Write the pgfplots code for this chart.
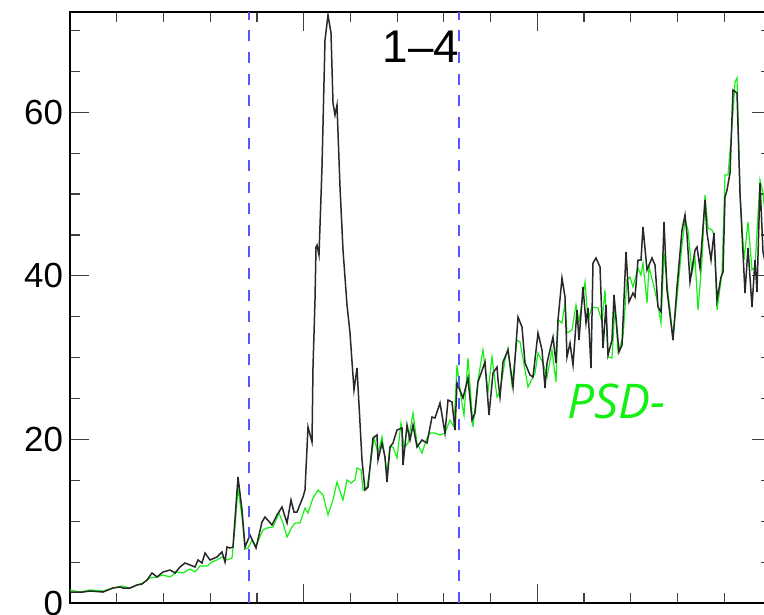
\documentclass[border=0pt]{standalone}
\usepackage{fontspec}
\usepackage{pgfplots}
\pgfplotsset{compat=1.18}
\setmainfont{Liberation Sans}
\newfontfamily\osans{Open Sans}
\definecolor{psdgreen}{RGB}{20,240,20}
\definecolor{obsblack}{RGB}{40,40,40}
\definecolor{bandblue}{RGB}{85,85,255}

\begin{document}
\begin{tikzpicture}
\begin{axis}[
    at={(0,0)}, anchor=south west,
    scale only axis,
    width=350.5bp, height=295.5bp,
    xmin=0, xmax=701,
    ymin=0, ymax=72.25,
    axis line style={line width=1bp, black},
    xtick={0,233.67,467.33,701},
    minor xtick={46.73,93.47,140.2,186.93,280.4,327.13,373.87,420.6,514.07,560.8,607.53,654.27},
    xticklabels={},
    ytick={0,20,40,60},
    minor ytick={5,10,15,25,30,35,45,50,55,65,70},
    major tick length=9.5bp,
    minor tick length=5bp,
    every tick/.style={line width=0.6bp, black!75},
    tick align=inside,
    /pgf/number format/assume math mode=true,
    yticklabel style={font=\fontsize{17.5}{20}\selectfont},
]

% PSD model
\addplot[color=psdgreen, line width=0.6bp] coordinates {
(0,1.59) (10,1.34) (20,1.59) (33,1.47) (43,1.83) (52,2.08) (60,1.83) (67,2.20)
(73,2.44) (80,3.06) (87,3.18) (93,3.42) (100,3.18) (107,3.79) (113,3.67) (120,4.16)
(125,3.79) (130,4.52) (137,4.52) (142,5.01) (147,5.26) (152,5.62) (157,5.26) (162,5.50)
(165,9.29) (168,14.06) (172,10.51) (175,6.60) (178,6.72) (182,7.70) (186,6.97) (193,8.92)
(197,9.17) (203,9.29) (209,11.00) (213,9.78) (217,8.07) (222,9.29) (225,9.78) (230,9.78)
(235,11.61) (238,11.00) (243,12.84) (248,13.81) (253,13.20) (258,10.76) (263,12.59) (267,14.79)
(273,12.59) (277,15.04) (281,14.67) (285,15.04) (287,16.50) (291,16.26) (293,13.81) (297,14.06)
(300,16.63) (304,20.17) (308,18.34) (312,20.29) (317,15.89) (320,19.07) (323,19.07) (327,17.73)
(331,22.00) (334,18.95) (338,19.56) (343,23.23) (347,19.56) (352,18.34) (357,20.17) (360,20.78)
(365,20.78) (370,20.54) (375,20.78) (380,22.37) (384,21.52) (387,29.10) (391,25.18) (394,22.98)
(398,29.95) (403,21.52) (408,27.26) (413,30.93) (418,25.79) (422,30.07) (427,25.18) (430,25.79)
(435,29.71) (438,31.17) (442,26.65) (447,32.15) (450,31.91) (455,28.48) (458,26.41) (465,28.12)
(468,30.56) (473,29.34) (477,27.63) (482,30.93) (486,27.02) (488,34.60) (492,34.23) (495,36.67)
(497,33.01) (502,33.37) (506,36.43) (509,34.35) (515,39.24) (518,34.60) (522,36.19) (528,36.06)
(532,34.35) (535,38.26) (538,30.07) (542,29.95) (545,36.43) (548,30.68) (553,32.52) (557,39.49)
(560,39.85) (563,38.63) (568,40.95) (571,40.10) (573,41.56) (577,36.67) (579,41.08) (583,39.12)
(587,37.04) (591,34.23) (594,42.79) (598,37.90) (603,32.52) (607,37.29) (612,43.77) (615,46.82)
(618,45.60) (622,40.34) (625,42.18) (628,35.82) (632,41.93) (635,49.88) (638,45.84) (642,45.60)
(644,44.99) (647,35.82) (652,40.34) (655,52.32) (658,52.32) (662,58.19) (665,63.69) (667,64.18)
(670,50.12) (674,41.93) (678,46.58) (682,40.71) (685,41.08) (690,51.71) (693,50.12) (698,44.0)
};

% observed spectrum
\addplot[color=obsblack, line width=0.75bp] coordinates {
(0,1.34) (13,1.34) (20,1.47) (33,1.34) (43,1.83) (50,1.96) (53,1.83) (60,1.83)
(67,2.20) (72,2.32) (77,2.81) (82,3.67) (87,3.18) (93,3.79) (100,4.03) (105,3.67)
(110,4.40) (115,4.89) (120,4.65) (125,4.40) (128,5.26) (132,4.89) (135,6.11) (140,5.26)
(147,5.62) (152,6.23) (155,5.01) (157,6.85) (160,6.72) (163,6.85) (168,15.40) (172,11.37)
(175,6.85) (180,8.31) (186,6.72) (192,9.90) (195,10.51) (202,9.54) (207,10.76) (212,11.74)
(217,9.78) (221,12.59) (224,11.12) (227,11.12) (233,12.96) (235,13.81) (238,21.52) (242,19.68)
(243,28.85) (245,37.04) (246,43.52) (247,43.77) (249,42.54) (252,53.30) (255,68.83) (258,71.88)
(261,69.68) (263,61.12) (265,59.66) (267,60.88) (270,50.86) (273,43.15) (277,36.43) (280,33.01)
(284,26.04) (287,28.73) (292,17.48) (295,13.81) (298,14.18) (303,20.17) (307,20.54) (308,17.48)
(312,19.56) (315,17.85) (317,14.79) (320,19.07) (323,19.56) (327,21.15) (332,21.39) (333,16.87)
(337,21.76) (340,19.93) (343,21.76) (347,19.07) (352,19.93) (357,19.56) (362,22.74) (365,22.62)
(370,24.45) (375,20.78) (378,24.82) (382,24.57) (385,21.15) (387,26.89) (393,25.06) (398,27.51)
(402,22.37) (405,23.23) (408,27.02) (415,29.46) (419,22.98) (423,28.12) (427,28.85) (428,27.26)
(430,25.18) (433,29.46) (438,30.93) (443,26.41) (448,34.96) (452,33.74) (455,29.34) (460,27.87)
(463,27.63) (468,33.01) (472,30.93) (475,26.28) (477,29.34) (483,32.52) (486,29.34) (488,34.60)
(492,39.73) (495,37.41) (497,30.07) (500,31.78) (503,29.10) (507,35.82) (509,32.15) (513,38.63)
(516,34.23) (518,36.06) (521,28.73) (523,41.56) (526,42.18) (530,41.08) (533,31.17) (536,36.43)
(538,30.32) (542,32.15) (544,37.65) (549,30.68) (552,31.54) (556,42.91) (559,36.80) (563,37.90)
(565,37.41) (568,41.93) (571,41.93) (573,45.97) (577,40.71) (582,42.18) (585,41.32) (588,36.19)
(591,35.57) (594,46.58) (597,38.26) (603,32.15) (607,38.63) (612,45.60) (615,47.43) (617,44.99)
(620,39.24) (625,43.15) (627,43.52) (630,40.95) (635,49.27) (637,45.23) (641,41.93) (644,45.23)
(647,37.04) (651,39.85) (653,40.46) (655,49.63) (657,50.49) (660,52.57) (663,62.71) (667,62.35)
(670,50.12) (675,37.90) (678,43.40) (682,36.19) (685,41.93) (687,38.02) (690,51.34) (693,42.91)
(698,40.0)
};

% band limits
\addplot[color=bandblue, line width=1bp, dash pattern=on 5.5bp off 5.3bp] coordinates {(179,0) (179,72.25)};
\addplot[color=bandblue, line width=1bp, dash pattern=on 5.5bp off 5.3bp] coordinates {(389,0) (389,72.25)};

\node[anchor=base, font=\fontsize{23}{26}\selectfont] at (axis cs:351,66.1) {1--4};
\node[anchor=base west, inner sep=0pt, text=psdgreen, font=\osans\itshape\fontsize{24}{28}\selectfont] at (axis cs:497,22.5) {PSD-};

\end{axis}
\pgfresetboundingbox
\path[use as bounding box] (-35bp,-6bp) rectangle (347bp,301.5bp);
\end{tikzpicture}
\end{document}
